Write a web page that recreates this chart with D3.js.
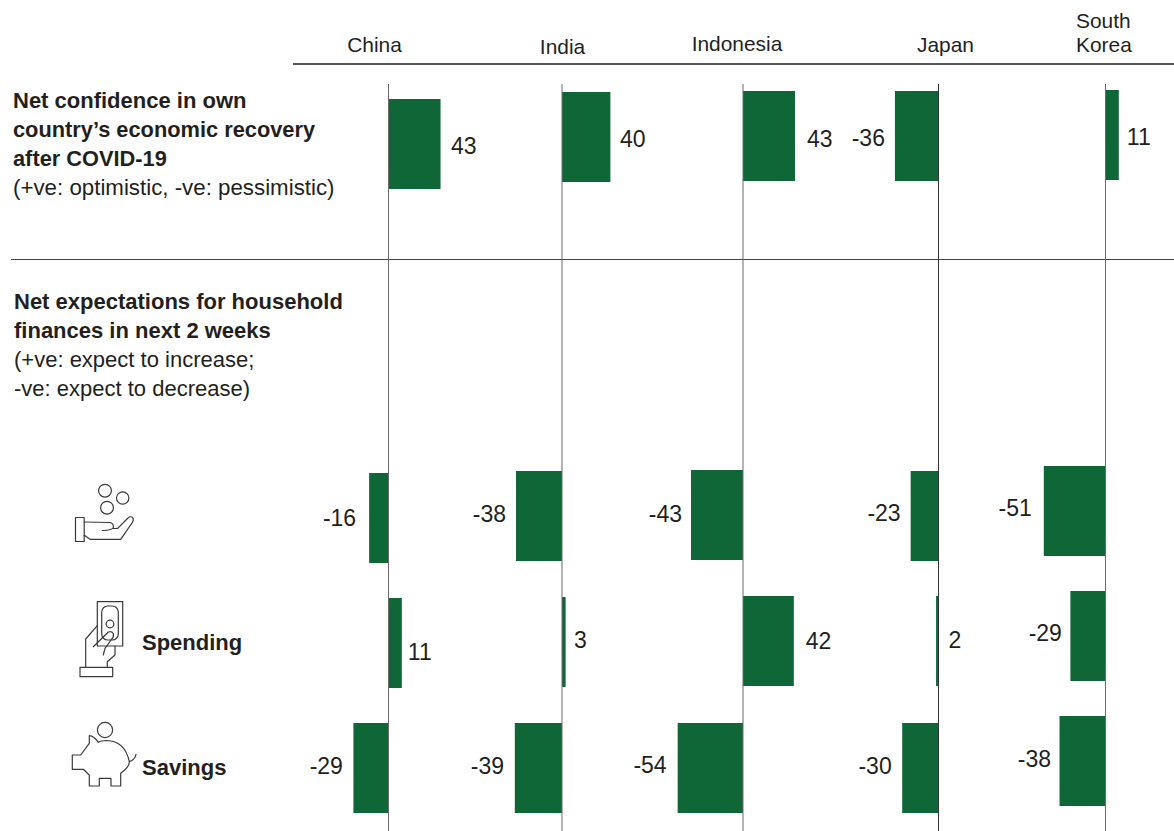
<!DOCTYPE html>
<html><head><meta charset="utf-8">
<script src="https://cdn.jsdelivr.net/npm/d3@7"></script>
<style>
html,body{margin:0;padding:0;background:#fff}
svg{display:block}
text{font-family:"Liberation Sans",Arial,sans-serif;fill:#231f20}
.icon{fill:none;stroke:#3a3a3a;stroke-width:1.2;stroke-linejoin:round;stroke-linecap:round}
</style></head><body>
<svg id="c" width="1174" height="831"></svg>
<script>
// ---- data ----
const countries = ["China","India","Indonesia","Japan","South Korea"];
const measures = ["confidence","spendingGeneral","spending","savings"];
const confidence = [43,40,43,-36,11];
const spendingGeneral = [-16,-38,-43,-23,-51];
const spending = [11,3,42,2,-29];
const savings = [-29,-39,-54,-30,-38];
const seriesByMeasure = [confidence,spendingGeneral,spending,savings];

// ---- layout ----
const W=1174,H=831,BAR_H=90;
const zeroX=d3.scaleOrdinal(countries,[388.5,562,743,938.5,1105.5]);
const rowY=d3.scaleOrdinal(measures,[91,471,596,723]);
const len=d3.scaleLinear().domain([0,60]).range([0,72.6]);
const barNudge=[[8,1,0,0,-1],[2,0,-1,0,-5],[2,1,0,0,-5],[0,0,0,0,-7]];
const labelDy=[[2,2,3,2,2],[0,-2,-1,-3,-3],[9,-2,0,-1,-3],[-2,-2,-3,-2,-2]];
const labelGap=[[10.5,9.5,12,10,8],[13,10,9,10,12],[6,8.4,12,7.5,8.5],[10.5,10.8,11,10.5,8.5]];
const MID=45,BASE=7.5;
const color="#0f6637";
// the reference draws Japan's small positive spending bar on the left of its axis
const drawnLeft=(d)=>d.v<0||(d.r===2&&d.c===3);

const svg=d3.select("#c");

// column headers
const heads=[["China",374.5,52,"middle"],["India",562.5,54,"middle"],["Indonesia",737,51,"middle"],["Japan",945.5,52,"middle"],["South",1076,28,"start"],["Korea",1076,52,"start"]];
svg.selectAll("text.head").data(heads).join("text").attr("class","head")
  .attr("x",d=>d[1]).attr("y",d=>d[2]).attr("text-anchor",d=>d[3]).attr("font-size",20.9).text(d=>d[0]);

// rules
svg.append("line").attr("x1",293).attr("x2",W).attr("y1",64).attr("y2",64).attr("stroke","#231f20").attr("stroke-width",1.4);
svg.append("line").attr("x1",11).attr("x2",W).attr("y1",259.5).attr("y2",259.5).attr("stroke","#444").attr("stroke-width",1);

// bars
const cells=[];
seriesByMeasure.forEach((s,r)=>s.forEach((v,c)=>cells.push({r,c,v,country:countries[c],measure:measures[r]})));
svg.selectAll("rect.bar").data(cells).join("rect").attr("class","bar")
  .attr("x",d=>drawnLeft(d)?zeroX(d.country)-len(Math.abs(d.v)):zeroX(d.country))
  .attr("width",d=>len(Math.abs(d.v)))
  .attr("y",d=>rowY(d.measure)+barNudge[d.r][d.c])
  .attr("height",BAR_H).attr("fill",color);

// zero lines
svg.selectAll("line.zero").data(countries).join("line").attr("class","zero")
  .attr("x1",d=>zeroX(d)).attr("x2",d=>zeroX(d)).attr("y1",84).attr("y2",H)
  .attr("stroke",(d,i)=>i===3?"#333":"#6b6b6b").attr("stroke-width",1);

// value labels
svg.selectAll("text.val").data(cells).join("text").attr("class","val")
  .attr("x",d=>{const x0=zeroX(d.country);const g=labelGap[d.r][d.c];return d.v<0?x0-len(-d.v)-g:x0+len(d.v)+g;})
  .attr("y",d=>rowY(d.measure)+barNudge[d.r][d.c]+MID+labelDy[d.r][d.c]+BASE)
  .attr("text-anchor",d=>d.v<0?"end":"start").attr("font-size",23).text(d=>d.v);

// left text
const notes=[
 ["Net confidence in own",13,108,1,22],["country’s economic recovery",13,137,1,21.8],["after COVID-19",13,166,1,21.8],["(+ve: optimistic, -ve: pessimistic)",13,195,0,22.3],
 ["Net expectations for household",14,309,1,22],["finances in next 2 weeks",14,338,1,22],["(+ve: expect to increase;",14,367,0,22],["-ve: expect to decrease)",14,396,0,22],
 ["Spending",142,650,1,22],["Savings",142,775,1,22]];
svg.selectAll("text.note").data(notes).join("text").attr("class","note")
 .attr("x",d=>d[1]).attr("y",d=>d[2]).attr("font-weight",d=>d[3]?"700":"400").attr("font-size",d=>d[4]).text(d=>d[0]);

// icons
const ic=svg.append("g").attr("class","icon");
[[105,490.7,6.4],[122.7,498,6.2],[107,507.7,6.4],[110,624,3.8],[105,730,7.6]].forEach(c=>ic.append("circle").attr("cx",c[0]).attr("cy",c[1]).attr("r",c[2]));
ic.append("rect").attr("x",75.5).attr("y",517.5).attr("width",8.7).attr("height",24);
ic.append("path").attr("d","M84.3,522 L110,522.5 Q113.5,523.5 113.5,527 Q113,530.5 102.3,530.5 M113,528.5 L117.7,528.3 L128,518 Q131,515.5 133,518 Q134,520 132,523 L120.7,539.3 L90,539.3 L84.3,535.3");
ic.append("rect").attr("x",97.3).attr("y",601.7).attr("width",25.4).attr("height",44.3);
ic.append("rect").attr("x",101.7).attr("y",606).attr("width",16.6).attr("height",34).attr("rx",6);
ic.append("rect").attr("x",80).attr("y",667.3).attr("width",32.7).attr("height",9.4);
ic.append("path").attr("d","M97.3,625.7 L85.7,639 L85.7,667.3 M93.3,646.7 L108.3,632 Q112,630.5 113.5,634 Q114,637 111,640 L105,648.3 L103.3,655 M115,646 L115,655 L107.3,661.7 L107.3,667.3");
ic.append("path").attr("d","M136,754.3 Q135,759.5 129.3,761.7 M89.3,735.7 L89.3,743.3 L80.7,755 L72.3,755 L72.3,769.3 L83.3,769.3 L89.3,775 L89.3,786 L99.3,786 L99.3,778.3 L111,778.3 L111,786 L120.7,786 L120.7,773.3 Q129.5,767 129.3,761.7 Q125,741 106.7,740.5 Q101,740.5 98.3,742.3 Q94,736 89.3,735.7");
</script></body></html>
